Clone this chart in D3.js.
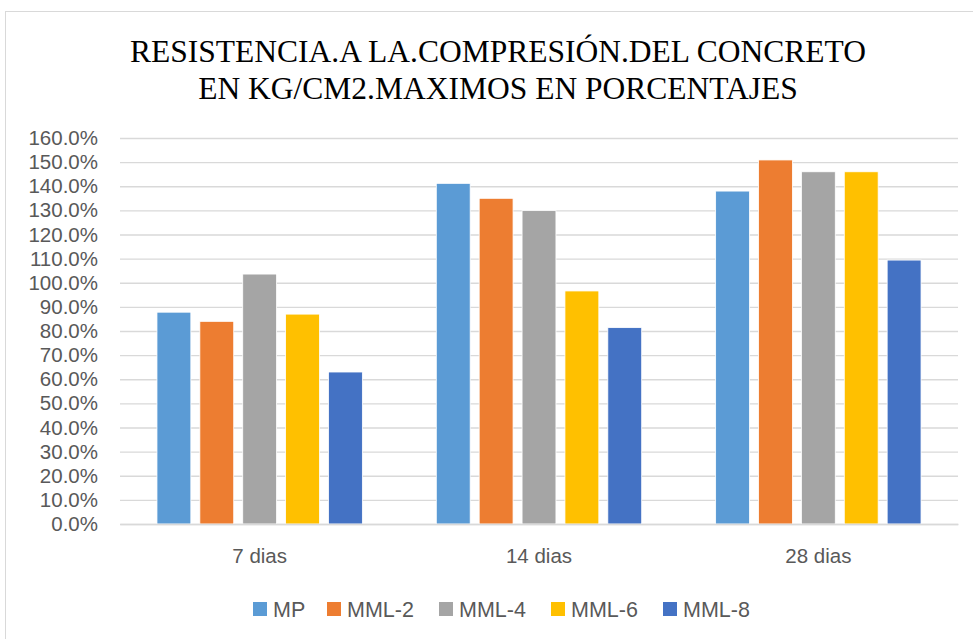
<!DOCTYPE html>
<html>
<head>
<meta charset="utf-8">
<script src="https://cdn.jsdelivr.net/npm/d3@7"></script>
<style>
  body { margin: 0; background: #fff; }
  text { font-family: "Liberation Sans", Arial, sans-serif; fill: #595959; }
</style>
</head>
<body>
<div id="chart"></div>
<script>
var categories = ["7 dias", "14 dias", "28 dias"];
var seriesNames = ["MP", "MML-2", "MML-4", "MML-6", "MML-8"];
var seriesColors = ["#5B9BD5", "#ED7D31", "#A5A5A5", "#FFC000", "#4472C4"];
// percentages, one array per series (values by category)
var mp   = [87.8, 141.2, 138.0];
var mml2 = [84.0, 135.0, 150.9];
var mml4 = [103.6, 129.9, 146.0];
var mml6 = [87.0, 96.6, 146.0];
var mml8 = [63.0, 81.4, 109.4];
var yTicks = d3.range(0, 161, 10);
var titleLines = ["RESISTENCIA.A LA.COMPRESIÓN.DEL CONCRETO", "EN KG/CM2.MAXIMOS EN PORCENTAJES"];

var seriesValues = [mp, mml2, mml4, mml6, mml8];

var width = 973,
  height = 639,
  margin = {left: 120, right: 15, top: 138, bottom: 115},
  svg = d3.select("#chart")
    .append("svg")
    .attr("width", width)
    .attr("height", height);

// outer chart frame
svg.append("rect")
  .attr("x", 5.5).attr("y", 11.5)
  .attr("width", 1000).attr("height", 700)
  .attr("fill", "none").attr("stroke", "#D9D9D9");

svg.selectAll(".title")
  .data(titleLines)
  .enter().append("text")
  .attr("class", "title")
  .attr("x", 498)
  .attr("y", function (d, i) { return 62 + i * 37; })
  .attr("text-anchor", "middle")
  .style("font-family", "'Liberation Serif', 'Times New Roman', serif")
  .style("font-size", "31.5px")
  .style("fill", "#000")
  .text(function (d) { return d; });

var chart = svg.append("g")
  .attr("transform", "translate(" + margin.left + "," + margin.top + ")");

var innerW = width - margin.left - margin.right,
  innerH = 524 - margin.top;

var x0 = d3.scaleBand().domain(categories).range([0, innerW]),
  x1 = d3.scaleBand().domain(seriesNames)
    .range([x0.bandwidth() / 2 - 102.7, x0.bandwidth() / 2 + 102.7])
    .paddingInner(0.21),
  y = d3.scaleLinear().domain([0, 160]).range([innerH, 0]),
  color = d3.scaleOrdinal().domain(seriesNames).range(seriesColors);

// gridlines
var yAxis = chart.append("g")
  .call(d3.axisLeft(y).tickValues(yTicks).tickSize(-innerW).tickPadding(22)
    .tickFormat(function (d) { return d.toFixed(1) + "%"; }));
yAxis.select(".domain").remove();
yAxis.selectAll("line").attr("stroke", "#D9D9D9").attr("stroke-width", 1.3);
yAxis.selectAll("text").style("font-size", "20.5px").style("fill", "#595959");

var groups = chart.selectAll(".grp")
  .data(categories)
  .enter().append("g")
  .attr("transform", function (d) { return "translate(" + x0(d) + ",0)"; });

groups.selectAll("rect")
  .data(function (c, ci) {
    return seriesNames.map(function (s, si) { return {s: s, v: seriesValues[si][ci]}; });
  })
  .enter().append("rect")
  .attr("x", function (d) { return x1(d.s); })
  .attr("width", x1.bandwidth())
  .attr("y", function (d) { return y(d.v); })
  .attr("height", function (d) { return innerH - y(d.v); })
  .attr("fill", function (d) { return color(d.s); })
  .attr("stroke", "#fff")
  .attr("stroke-width", 0.8);

var xAxis = chart.append("g")
  .attr("transform", "translate(0," + innerH + ")")
  .call(d3.axisBottom(x0).tickSize(0).tickPadding(24));
xAxis.select(".domain").attr("stroke", "#D9D9D9").attr("stroke-width", 1.3);
xAxis.selectAll("text").style("font-size", "20.5px").style("fill", "#595959");

// legend
var legendX = [253, 327, 439, 551, 663];
var legend = svg.selectAll(".leg")
  .data(seriesNames)
  .enter().append("g")
  .attr("transform", function (d, i) { return "translate(" + legendX[i] + ",609)"; });
legend.append("rect")
  .attr("x", 0).attr("y", -7)
  .attr("width", 14).attr("height", 14)
  .attr("fill", function (d) { return color(d); });
legend.append("text")
  .attr("x", 20).attr("y", 0)
  .attr("dy", "0.36em")
  .style("font-size", "21.5px")
  .text(function (d) { return d; });
</script>
</body>
</html>
